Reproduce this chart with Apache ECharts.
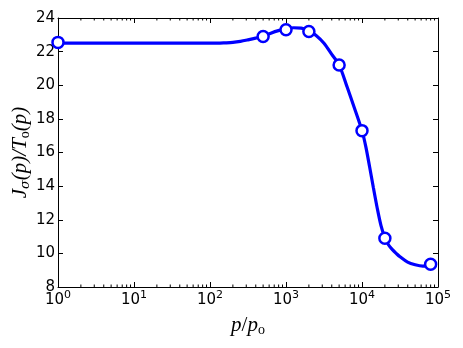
<!DOCTYPE html>
<html>
<head>
<meta charset="utf-8">
<script src="https://cdn.jsdelivr.net/npm/echarts@6/dist/echarts.min.js"></script>
<style>
  html, body { margin: 0; padding: 0; background: #fff; }
  #main { width: 463px; height: 348px; }
</style>
</head>
<body>
<div id="main"></div>
<script>
// fitted curve
var curveX = [1, 10, 100, 126, 158, 200, 251, 316, 398, 501, 631, 794, 1000, 1259, 1585, 1995, 2512, 3162, 3981,
              5012, 6310, 7943, 10000, 11220, 12589, 14125, 15849, 17783, 19953, 22387, 25119, 28184, 31623,
              39811, 50119, 63096, 79433, 85000];
var curveY = [22.5, 22.5, 22.5, 22.5, 22.52, 22.55, 22.61, 22.7, 22.8, 22.92, 23.1, 23.25, 23.36, 23.42, 23.4, 23.25, 22.95, 22.5, 21.85,
              21.2, 19.95, 18.65, 17.3, 16.35, 15.15, 13.9, 12.7, 11.65, 10.95, 10.5, 10.22, 10.0, 9.8,
              9.48, 9.32, 9.24, 9.27, 9.3];
// measured points (circles)
var pointX = [1, 500, 1000, 2000, 5000, 10000, 20000, 80000];
var pointY = [22.55, 22.9, 23.3, 23.2, 21.2, 17.3, 10.9, 9.35];
// axis ranges / ticks
var xMin = 1, xMax = 100000;
var yMin = 8, yMax = 24, yStep = 2;
var minorX = [];
for (var d = 1; d < xMax; d *= 10) {
    for (var k = 2; k <= 9; k++) minorX.push(d * k);
}

var chart = echarts.init(document.getElementById('main'));
var tickFont = 'DejaVu Sans';
var mathFont = 'Liberation Serif';

function pairs(xs, ys) {
    return xs.map(function (x, i) { return [x, ys[i]]; });
}

var option = {
    backgroundColor: '#fff',
    animation: false,
    grid: { left: 58, right: 25, top: 18, bottom: 61, outerBoundsMode: 'none' },
    xAxis: [
        {
            type: 'log',
            logBase: 10,
            min: xMin,
            max: xMax,
            name: '{i|p}{n|/}{i|p}{sub|o}',
            nameLocation: 'middle',
            nameGap: 26,
            nameMoveOverlap: false,
            nameTextStyle: {
                rich: {
                    i: { fontFamily: mathFont, fontStyle: 'italic', fontSize: 21, lineHeight: 24, color: '#000' },
                    n: { fontFamily: mathFont, fontSize: 21, lineHeight: 24, color: '#000' },
                    sub: { fontFamily: mathFont, fontSize: 14, lineHeight: 11, verticalAlign: 'bottom', color: '#000' }
                }
            },
            axisLine: { onZero: false, lineStyle: { color: '#000', width: 1 } },
            axisTick: { inside: true, length: 5, lineStyle: { color: '#000' } },
            splitLine: { show: false },
            axisLabel: {
                margin: 3,
                formatter: function (v) {
                    return '{b|10}{s|' + Math.round(Math.log10(v)) + '}';
                },
                rich: {
                    b: { fontFamily: tickFont, fontSize: 15, lineHeight: 20, color: '#000' },
                    s: { fontFamily: tickFont, fontSize: 11, lineHeight: 10, verticalAlign: 'top', color: '#000' }
                }
            }
        },
        {
            type: 'log',
            logBase: 10,
            min: xMin,
            max: xMax,
            position: 'top',
            axisLine: { lineStyle: { color: '#000', width: 1 } },
            axisTick: { inside: true, length: 5, lineStyle: { color: '#000' } },
            axisLabel: { show: false },
            splitLine: { show: false }
        }
    ],
    yAxis: [
        {
            type: 'value',
            min: yMin,
            max: yMax,
            interval: yStep,
            name: '{i|J}{sub|σ}{i|(p)/T}{sub2|o}{i|(p)}',
            nameLocation: 'middle',
            nameRotate: 90,
            nameGap: 26,
            nameMoveOverlap: false,
            nameTextStyle: {
                rich: {
                    i: { fontFamily: mathFont, fontStyle: 'italic', fontSize: 21, lineHeight: 24, color: '#000' },
                    sub: { fontFamily: 'DejaVu Serif', fontStyle: 'italic', fontSize: 13, lineHeight: 11, verticalAlign: 'bottom', color: '#000' },
                    sub2: { fontFamily: mathFont, fontSize: 14, lineHeight: 11, verticalAlign: 'bottom', color: '#000' }
                }
            },
            axisLine: { onZero: false, lineStyle: { color: '#000', width: 1 } },
            axisTick: { inside: true, length: 5, lineStyle: { color: '#000' } },
            splitLine: { show: false },
            axisLabel: { margin: 3, fontFamily: tickFont, fontSize: 15, color: '#000' }
        },
        {
            type: 'value',
            min: yMin,
            max: yMax,
            interval: yStep,
            position: 'right',
            axisLine: { lineStyle: { color: '#000', width: 1 } },
            axisTick: { inside: true, length: 5, lineStyle: { color: '#000' } },
            axisLabel: { show: false },
            splitLine: { show: false }
        }
    ],
    series: [
        {
            // minor log ticks at 2..9 of each decade, top and bottom
            type: 'custom',
            silent: true,
            clip: false,
            data: minorX.map(function (x) { return [x, yMin]; }),
            renderItem: function (params, api) {
                var b = api.coord([api.value(0), yMin]);
                var t = api.coord([api.value(0), yMax]);
                var st = { stroke: '#000', lineWidth: 1 };
                return {
                    type: 'group',
                    children: [
                        { type: 'line', shape: { x1: b[0], y1: b[1], x2: b[0], y2: b[1] - 2.5 }, style: st },
                        { type: 'line', shape: { x1: t[0], y1: t[1], x2: t[0], y2: t[1] + 2.5 }, style: st }
                    ]
                };
            },
            z: 1
        },
        {
            type: 'line',
            data: pairs(curveX, curveY),
            smooth: 0.3,
            showSymbol: false,
            lineStyle: { color: '#0000ff', width: 3.2 },
            z: 2
        },
        {
            type: 'scatter',
            data: pairs(pointX, pointY),
            symbol: 'circle',
            symbolSize: 11,
            itemStyle: { color: '#fff', borderColor: '#0000ff', borderWidth: 2.5, opacity: 1 },
            z: 3
        }
    ]
};
chart.setOption(option);
</script>
</body>
</html>
